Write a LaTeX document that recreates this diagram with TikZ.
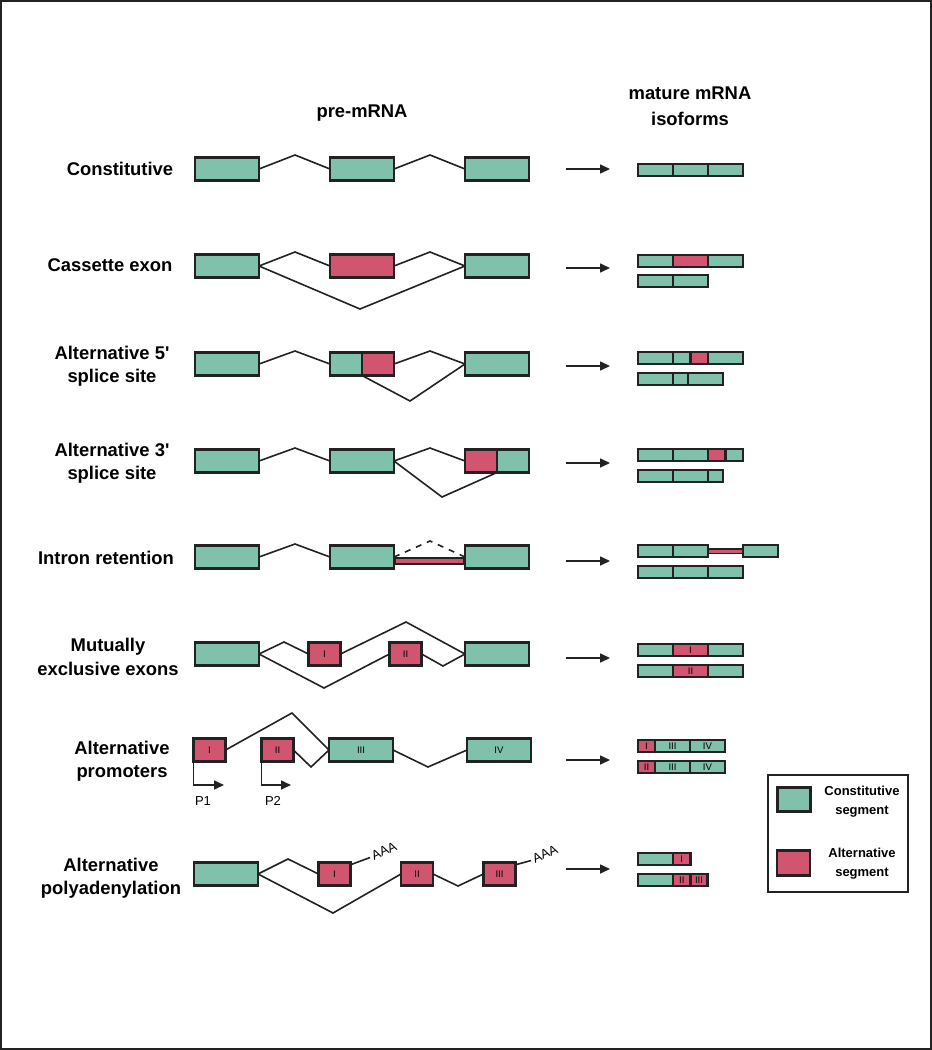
\documentclass[tikz,border=0pt]{standalone}
\usepackage{fontspec}
\setmainfont{Liberation Sans}
\usetikzlibrary{positioning,arrows.meta}

\definecolor{exgreen}{RGB}{127,193,171}
\definecolor{exred}{RGB}{210,85,112}
\definecolor{edge}{RGB}{34,34,34}

\newcommand\rowfont{\fontsize{9.2}{11.6}\selectfont\bfseries}
\newcommand\headfont{\fontsize{9.2}{12.8}\selectfont\bfseries}
\newcommand\keyfont{\fontsize{6.5}{9.5}\selectfont\bfseries}
\newcommand\boxfont{\fontsize{4.8}{5}\selectfont}
\newcommand\tagfont{\fontsize{6.5}{7}\selectfont}

\tikzset{
	exon/.style={rectangle,draw=edge,line width=1.25pt,fill=exgreen,minimum width=32pt,minimum height=11.5pt,inner sep=0pt,outer sep=0pt,font=\boxfont},
	half/.style={exon,minimum width=16pt},
	altexon/.style={half,fill=exred},
	seg/.style={rectangle,draw=edge,line width=1.2pt,fill=exgreen,minimum width=17.5pt,minimum height=6pt,inner sep=0pt,outer sep=0pt,font=\boxfont},
	altseg/.style={seg,fill=exred},
	intron/.style={draw=edge,line width=0.8pt},
	flow/.style={draw=edge,line width=0.8pt,-{Triangle[length=5pt,width=4.5pt]}},
	rowlabel/.style={font=\rowfont,align=center,inner sep=0pt},
}

\begin{document}
\begin{tikzpicture}[x=0.5pt,y=-0.5pt]
	\useasboundingbox (0,0) rectangle (932,1050);
	\draw[edge,line width=1.2pt] (1,1) rectangle (931,1049);

	% headings
	\node[font=\headfont] (pre) at (362,113) {pre-mRNA};
	\node[font=\headfont,align=center] (mature) at (690,106) {mature mRNA\\isoforms};

	% row labels
	\node[rowlabel] (l1) at (120,169) {Constitutive};
	\node[rowlabel] (l2) at (110,265) {Cassette exon};
	\node[rowlabel] (l3) at (112,366) {Alternative 5\textquotesingle\\splice site};
	\node[rowlabel] (l4) at (112,463) {Alternative 3\textquotesingle\\splice site};
	\node[rowlabel] (l5) at (106,558) {Intron retention};
	\node[rowlabel] (l6) at (108,657) {Mutually\\exclusive exons};
	\node[rowlabel] (l7) at (122,761) {Alternative\\promoters};
	\node[rowlabel] (l8) at (111,878) {Alternative\\polyadenylation};

	% constitutive
	\node[exon] (a1) at (227,169) {};
	\node[exon] (a2) at (362,169) {};
	\node[exon] (a3) at (497,169) {};
	\draw[intron] (a1.east) -- (295,155) -- (a2.west);
	\draw[intron] (a2.east) -- (430,155) -- (a3.west);

	% cassette exon
	\node[exon] (b1) at (227,266) {};
	\node[exon,fill=exred] (b2) at (362,266) {};
	\node[exon] (b3) at (497,266) {};
	\draw[intron] (b1.east) -- (295,252) -- (b2.west);
	\draw[intron] (b2.east) -- (430,252) -- (b3.west);
	\draw[intron] (b1.east) -- (360,309) -- (b3.west);

	% alternative 5' splice site
	\node[exon] (c1) at (227,364) {};
	\node[half] (c2) at (346,364) {};
	\node[altexon,right=0pt of c2] (c2r) {};
	\node[exon] (c3) at (497,364) {};
	\draw[intron] (c1.east) -- (295,351) -- (c2.west);
	\draw[intron] (c2r.east) -- (430,351) -- (c3.west);
	\draw[intron] (c2.south east) -- (410,401) -- (c3.west);

	% alternative 3' splice site
	\node[exon] (d1) at (227,461) {};
	\node[exon] (d2) at (362,461) {};
	\node[altexon] (d3) at (481,461) {};
	\node[half,right=0pt of d3] (d3g) {};
	\draw[intron] (d1.east) -- (295,448) -- (d2.west);
	\draw[intron] (d2.east) -- (430,448) -- (d3.west);
	\draw[intron] (d2.east) -- (442,497) -- (d3.south east);

	% intron retention
	\node[exon] (f1) at (227,557) {};
	\node[exon] (f2) at (362,557) {};
	\node[exon] (f3) at (497,557) {};
	\node[exon,fill=exred,line width=0.9pt,minimum width=34.5pt,minimum height=3pt] (fbar) at (429.5,561) {};
	\draw[intron] (f1.east) -- (295,544) -- (f2.west);
	\draw[intron,dashed] (f2.east) -- (430,541) -- (f3.west);

	% mutually exclusive exons
	\node[exon] (g1) at (227,654) {};
	\node[altexon] (gI) at (324.5,654) {I};
	\node[altexon] (gII) at (405.5,654) {II};
	\node[exon] (g3) at (497,654) {};
	\draw[intron] (g1.east) -- (284,642) -- (gI.west);
	\draw[intron] (gI.east) -- (406,622) -- (g3.west);
	\draw[intron] (g1.east) -- (324,688) -- (gII.west);
	\draw[intron] (gII.east) -- (443,666) -- (g3.west);

	% alternative promoters
	\node[altexon] (hI) at (209.5,750) {I};
	\node[altexon] (hII) at (277.5,750) {II};
	\node[exon] (h3) at (361,750) {III};
	\node[exon] (h4) at (499,750) {IV};
	\draw[intron] (hI.east) -- (292,713) -- (h3.west);
	\draw[intron] (hII.east) -- (311,767) -- (h3.west);
	\draw[intron] (h3.east) -- (428,767) -- (h4.west);
	\coordinate (p1) at (224,785);
	\coordinate (p2) at (291,785);
	\draw[flow] (hI.south west) |- (p1);
	\draw[flow] (hII.south west) |- (p2);
	\node[font=\tagfont] (lp1) at (203,801) {P1};
	\node[font=\tagfont] (lp2) at (273,801) {P2};

	% alternative polyadenylation
	\node[exon] (k1) at (226,874) {};
	\node[altexon] (kI) at (334.5,874) {I};
	\node[altexon] (kII) at (417,874) {II};
	\node[altexon] (kIII) at (499.5,874) {III};
	\draw[intron] (k1.east) -- (288,859) -- (kI.west);
	\draw[intron] (k1.east) -- (333,913) -- (kII.west);
	\draw[intron] (kII.east) -- (458,886) -- (kIII.west);
	\node[font=\tagfont,rotate=25,inner sep=1pt] (aaa1) at (384,851) {AAA};
	\node[font=\tagfont,rotate=25,inner sep=1pt] (aaa2) at (545,854) {AAA};
	\draw[intron] (kI.30) -- (aaa1.west);
	\draw[intron] (kIII.30) -- (aaa2.west);

	% arrows to isoforms
	\foreach \y [count=\i] in {169,268,366,463,561,658,760,869}{
		\coordinate (s\i) at (566,\y);
		\coordinate (t\i) at (610,\y);
		\draw[flow] (s\i) -- (t\i);
	}

	% mature isoforms
	\node[seg,anchor=west] (m1a) at (638,170) {};
	\node[seg,right=0pt of m1a] (m1b) {};
	\node[seg,right=0pt of m1b] (m1c) {};

	\node[seg,anchor=west] (m2a) at (638,261) {};
	\node[altseg,right=0pt of m2a] (m2b) {};
	\node[seg,right=0pt of m2b] (m2c) {};
	\node[seg,anchor=west] (n2a) at (638,281) {};
	\node[seg,right=0pt of n2a] (n2b) {};

	\node[seg,anchor=west] (m3a) at (638,358) {};
	\node[seg,minimum width=8.75pt,right=0pt of m3a] (m3b) {};
	\node[altseg,minimum width=8.75pt,right=0pt of m3b] (m3c) {};
	\node[seg,right=0pt of m3c] (m3d) {};
	\node[seg,anchor=west] (n3a) at (638,379) {};
	\node[seg,minimum width=7.5pt,right=0pt of n3a] (n3b) {};
	\node[seg,right=0pt of n3b] (n3c) {};

	\node[seg,anchor=west] (m4a) at (638,455) {};
	\node[seg,right=0pt of m4a] (m4b) {};
	\node[altseg,minimum width=8.75pt,right=0pt of m4b] (m4c) {};
	\node[seg,minimum width=8.75pt,right=0pt of m4c] (m4d) {};
	\node[seg,anchor=west] (n4a) at (638,476) {};
	\node[seg,right=0pt of n4a] (n4b) {};
	\node[seg,minimum width=7.5pt,right=0pt of n4b] (n4c) {};

	\node[seg,anchor=west] (m5a) at (638,551) {};
	\node[seg,right=0pt of m5a] (m5b) {};
	\node[altseg,line width=0.7pt,minimum height=2.2pt,right=0pt of m5b] (m5c) {};
	\node[seg,right=0pt of m5c] (m5d) {};
	\node[seg,anchor=west] (n5a) at (638,572) {};
	\node[seg,right=0pt of n5a] (n5b) {};
	\node[seg,right=0pt of n5b] (n5c) {};

	\node[seg,anchor=west] (m6a) at (638,650) {};
	\node[altseg,right=0pt of m6a] (m6b) {I};
	\node[seg,right=0pt of m6b] (m6c) {};
	\node[seg,anchor=west] (n6a) at (638,671) {};
	\node[altseg,right=0pt of n6a] (n6b) {II};
	\node[seg,right=0pt of n6b] (n6c) {};

	\node[altseg,minimum width=8.5pt,anchor=west] (m7a) at (638,746) {I};
	\node[seg,right=0pt of m7a] (m7b) {III};
	\node[seg,right=0pt of m7b] (m7c) {IV};
	\node[altseg,minimum width=8.5pt,anchor=west] (n7a) at (638,767) {II};
	\node[seg,right=0pt of n7a] (n7b) {III};
	\node[seg,right=0pt of n7b] (n7c) {IV};

	\node[seg,anchor=west] (m8a) at (638,859) {};
	\node[altseg,minimum width=8.75pt,right=0pt of m8a] (m8b) {I};
	\node[seg,anchor=west] (n8a) at (638,880) {};
	\node[altseg,minimum width=8.75pt,right=0pt of n8a] (n8b) {II};
	\node[altseg,minimum width=8.5pt,right=0pt of n8b] (n8c) {III};

	% legend
	\node[draw=edge,line width=0.75pt,minimum width=70pt,minimum height=58.5pt,inner sep=0pt] (key) at (838,833.5) {};
	\node[exon,minimum width=16.5pt,minimum height=12pt] (kc) at (794,799.5) {};
	\node[exon,fill=exred,minimum width=16.5pt,minimum height=12.5pt] (ka) at (793.5,863) {};
	\node[font=\keyfont,align=center] (tc) at (862,802) {Constitutive\\segment};
	\node[font=\keyfont,align=center] (ta) at (862,863.5) {Alternative\\segment};
\end{tikzpicture}
\end{document}
